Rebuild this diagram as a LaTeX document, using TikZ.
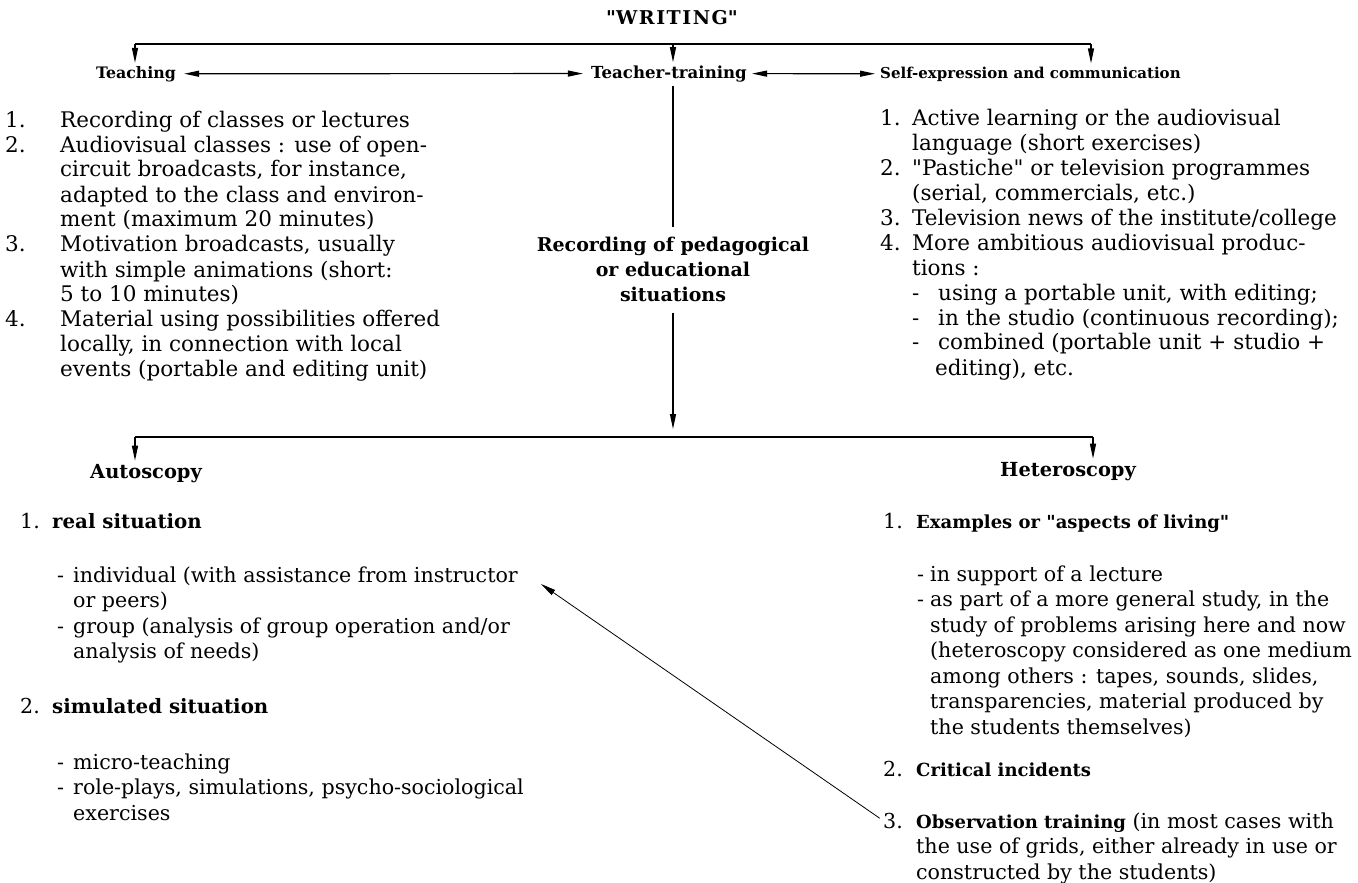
\documentclass[tikz,border=0pt]{standalone}
\usepackage{fontspec}
\setmainfont{DejaVu Serif}
\usetikzlibrary{arrows.meta, positioning}

\begin{document}
\begin{tikzpicture}[x=1pt, y=-1pt, every node/.style={inner sep=0pt},
    corpo/.style={font=\fontsize{21.5}{25}\selectfont, anchor=base west},
    sotto/.style={font=\fontsize{20.6}{25.5}\selectfont, anchor=base west},
    ramo/.style={font=\fontsize{15.8}{25}\selectfont\bfseries},
    voce/.style={font=\fontsize{19}{25}\selectfont\bfseries, anchor=base west},
    freccia/.style={line width=1.2pt, -{Triangle[length=15pt,width=6pt]}},
    doppia/.style={line width=1.2pt, {Triangle[length=15pt,width=6pt]}-{Triangle[length=15pt,width=6pt]}}]

    \useasboundingbox (0,0) rectangle (1358,883);

    % Titolo
    \node[ramo, font=\fontsize{19}{25}\selectfont\bfseries\addfontfeature{LetterSpace=8}, anchor=base] (writing) at (672,25) {\textquotedbl WRITING\textquotedbl};

    % Rami
    \node[ramo, anchor=base] (teaching) at (136,78) {Teaching};
    \node[ramo, font=\fontsize{16.6}{25}\selectfont\bfseries, anchor=base] (training) at (669,78) {Teacher-training};
    \node[ramo, font=\fontsize{15}{25}\selectfont\bfseries, anchor=base west] (selfexp) at (880,78) {Self-expression and communication};

    \coordinate (w1) at (135,44);
    \coordinate (w2) at (673,44);
    \coordinate (w3) at (1091,44);
    \draw[line width=1.2pt] (w1) -- (w3);
    \draw[freccia, shorten >=3pt] (w1) -- (w1 |- teaching.north);
    \draw[freccia, shorten >=3pt] (w2) -- (w2 |- training.north);
    \draw[freccia, shorten >=3pt] (w3) -- (w3 |- selfexp.north);
    \draw[doppia, shorten <=8pt, shorten >=8pt] (teaching) -- (training);
    \draw[doppia, shorten <=5pt, shorten >=5pt] (training) -- (selfexp);

    % Insegnamento
    \node[corpo] (teachlist) at (5,127) {\begin{tabular}[t]{@{}p{55pt}@{}l@{}}
    1. & Recording of classes or lectures\\
    2. & Audiovisual classes : use of open-\\
       & circuit broadcasts, for instance,\\
       & adapted to the class and environ-\\
       & ment (maximum 20 minutes)\\
    3. & Motivation broadcasts, usually\\
       & with simple animations (short:\\
       & 5 to 10 minutes)\\
    4. & Material using possibilities offered\\
       & locally, in connection with local\\
       & events (portable and editing unit)
    \end{tabular}};

    % Espressione
    \node[corpo] (selflist) at (880,125) {\begin{tabular}[t]{@{}p{32pt}@{}l@{}}
    1. & Active learning or the audiovisual\\
       & language (short exercises)\\
    2. & \textquotedbl Pastiche\textquotedbl{} or television programmes\\
       & (serial, commercials, etc.)\\
    3. & Television news of the institute/college\\
    4. & More ambitious audiovisual produc-\\
       & tions :\\
       & \makebox[26pt][l]{-}using a portable unit, with editing;\\
       & \makebox[26pt][l]{-}in the studio (continuous recording);\\
       & \makebox[26pt][l]{-}combined (portable unit + studio +\\
       & \hspace*{23pt}editing), etc.
    \end{tabular}};

    % Registrazione
    \node[voce, anchor=base] (rec) at (673,251) {\begin{tabular}[t]{@{}c@{}}
    Recording of pedagogical\\ or educational\\ situations
    \end{tabular}};
    \coordinate (w4) at (673,429);
    \draw[line width=1.2pt, shorten <=4pt, shorten >=6pt] (training.south -| w2) -- (rec.north -| w2);
    \draw[freccia, shorten <=4pt] (rec.south -| w2) -- (w4);

    \coordinate (b1) at (135,437);
    \coordinate (b2) at (1093,437);
    \draw[line width=1.2pt] (b1) -- (b2);
    \node[voce, font=\fontsize{19.4}{25}\selectfont\bfseries, anchor=base] (auto) at (146,478) {Autoscopy};
    \node[voce, font=\fontsize{19.4}{25}\selectfont\bfseries, anchor=base] (hetero) at (1068,476) {Heteroscopy};
    \draw[freccia, shorten >=3pt] (b1) -- (b1 |- auto.north);
    \draw[freccia, shorten >=3pt] (b2) -- (b2 |- hetero.north);

    % Autoscopia
    \node[sotto] (a1n) at (20,528) {1.};
    \node[voce, font=\fontsize{19.8}{25}\selectfont\bfseries] (a1) at (52,528) {real situation};
    \node[sotto] (a1sub) at (57,582) {\begin{tabular}[t]{@{}p{16pt}@{}l@{}}
    - & individual (with assistance from instructor\\
      & or peers)\\
    - & group (analysis of group operation and/or\\
      & analysis of needs)
    \end{tabular}};
    \node[sotto] (a2n) at (20,713) {2.};
    \node[voce, font=\fontsize{19.8}{25}\selectfont\bfseries] (a2) at (52,713) {simulated situation};
    \node[sotto] (a2sub) at (57,769) {\begin{tabular}[t]{@{}p{16pt}@{}l@{}}
    - & micro-teaching\\
    - & role-plays, simulations, psycho-sociological\\
      & exercises
    \end{tabular}};

    % Eteroscopia
    \node[sotto] (h1n) at (883,528) {1.};
    \node[voce, font=\fontsize{18}{25}\selectfont\bfseries] (h1) at (916,528) {Examples or \textquotedbl aspects of living\textquotedbl};
    \node[sotto] (h1sub) at (917,581) {\begin{tabular}[t]{@{}p{13pt}@{}l@{}}
    - & in support of a lecture\\
    - & as part of a more general study, in the\\
      & study of problems arising here and now\\
      & (heteroscopy considered as one medium\\
      & among others : tapes, sounds, slides,\\
      & transparencies, material produced by\\
      & the students themselves)
    \end{tabular}};
    \node[sotto] (h2n) at (883,776) {2.};
    \node[voce, font=\fontsize{18}{25}\selectfont\bfseries] (h2) at (916,776) {Critical incidents};
    \node[sotto] (h3n) at (883,828) {3.};
    \node[sotto] (h3) at (916,828) {\begin{tabular}[t]{@{}l@{}}
    {\fontsize{18}{25}\selectfont\bfseries Observation training} (in most cases with\\
    the use of grids, either already in use or\\
    constructed by the students)
    \end{tabular}};

    \coordinate (instr) at (541,584);
    \draw[line width=0.8pt, -{Triangle[length=15pt,width=6pt]}, shorten <=4pt] (h3n.west) -- (instr);
\end{tikzpicture}
\end{document}
